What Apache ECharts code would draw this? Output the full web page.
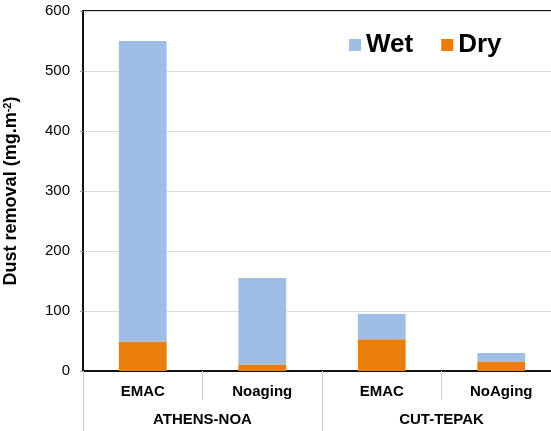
<!DOCTYPE html>
<html><head><meta charset="utf-8">
<script src="https://cdn.jsdelivr.net/npm/echarts@6/dist/echarts.min.js"></script>
<style>html,body{margin:0;padding:0;background:#fff}#c{width:551px;height:431px}</style>
</head><body><div id="c"></div>
<script>
const categories = ['EMAC', 'Noaging', 'EMAC', 'NoAging'];
const groups = ['ATHENS-NOA', 'CUT-TEPAK'];
const dryValues = [49, 11, 53, 16];
const wetValues = [501, 144, 42, 14];
const yTicks = [0, 100, 200, 300, 400, 500, 600];

const chart = echarts.init(document.getElementById('c'));
const font = '"Liberation Sans", Arial, sans-serif';
chart.setOption({
  animation: false,
  grid: { left: 83, top: 11, width: 478, bottom: 60, show: true, borderColor: '#111', borderWidth: 2, outerBoundsMode: 'none', containLabel: false },
  legend: {
    data: ['Wet', 'Dry'], left: 344, top: 27, itemWidth: 12, itemHeight: 12, itemGap: 28,
    icon: 'rect',
    textStyle: { fontFamily: font, fontWeight: 'bold', fontSize: 26, color: '#000' }
  },
  xAxis: [{
    type: 'category', data: categories, position: 'bottom',
    axisLine: { lineStyle: { color: '#111', width: 2 } },
    axisTick: { show: true, length: 29, lineStyle: { color: '#ccc' } },
    axisLabel: { fontFamily: font, fontWeight: 'bold', fontSize: 15, color: '#000', margin: 13 }
  }, {
    type: 'category', data: groups, position: 'bottom',
    axisLine: { show: false },
    axisTick: { show: true, length: 60, lineStyle: { color: '#ccc' } },
    axisLabel: { fontFamily: font, fontWeight: 'bold', fontSize: 15, color: '#000', margin: 41 }
  }],
  yAxis: {
    type: 'value', min: yTicks[0], max: yTicks[yTicks.length - 1], interval: 100,
    name: '{a|Dust removal (mg.m}{b|-2}{a|)}', nameLocation: 'middle', nameGap: 62,
    nameTextStyle: {
      rich: {
        a: { fontFamily: font, fontWeight: 'bold', fontSize: 18, color: '#000' },
        b: { fontFamily: font, fontWeight: 'bold', fontSize: 11, color: '#000', verticalAlign: 'top', padding: [0, 0, 8, 0] }
      }
    },
    axisLine: { show: true, lineStyle: { color: '#111', width: 2 } },
    axisTick: { show: true, length: 3, lineStyle: { color: '#999' } },
    axisLabel: { fontFamily: font, fontSize: 15, color: '#000', margin: 13 },
    splitLine: { lineStyle: { color: '#ddd' } }
  },
  series: [{
    name: 'Dry', type: 'bar', stack: 's', data: dryValues, barWidth: '40%',
    itemStyle: { color: '#e97e0c' }
  }, {
    name: 'Wet', type: 'bar', stack: 's', data: wetValues, barWidth: '40%',
    itemStyle: { color: '#9ebee6' }
  }]
});
</script></body></html>
